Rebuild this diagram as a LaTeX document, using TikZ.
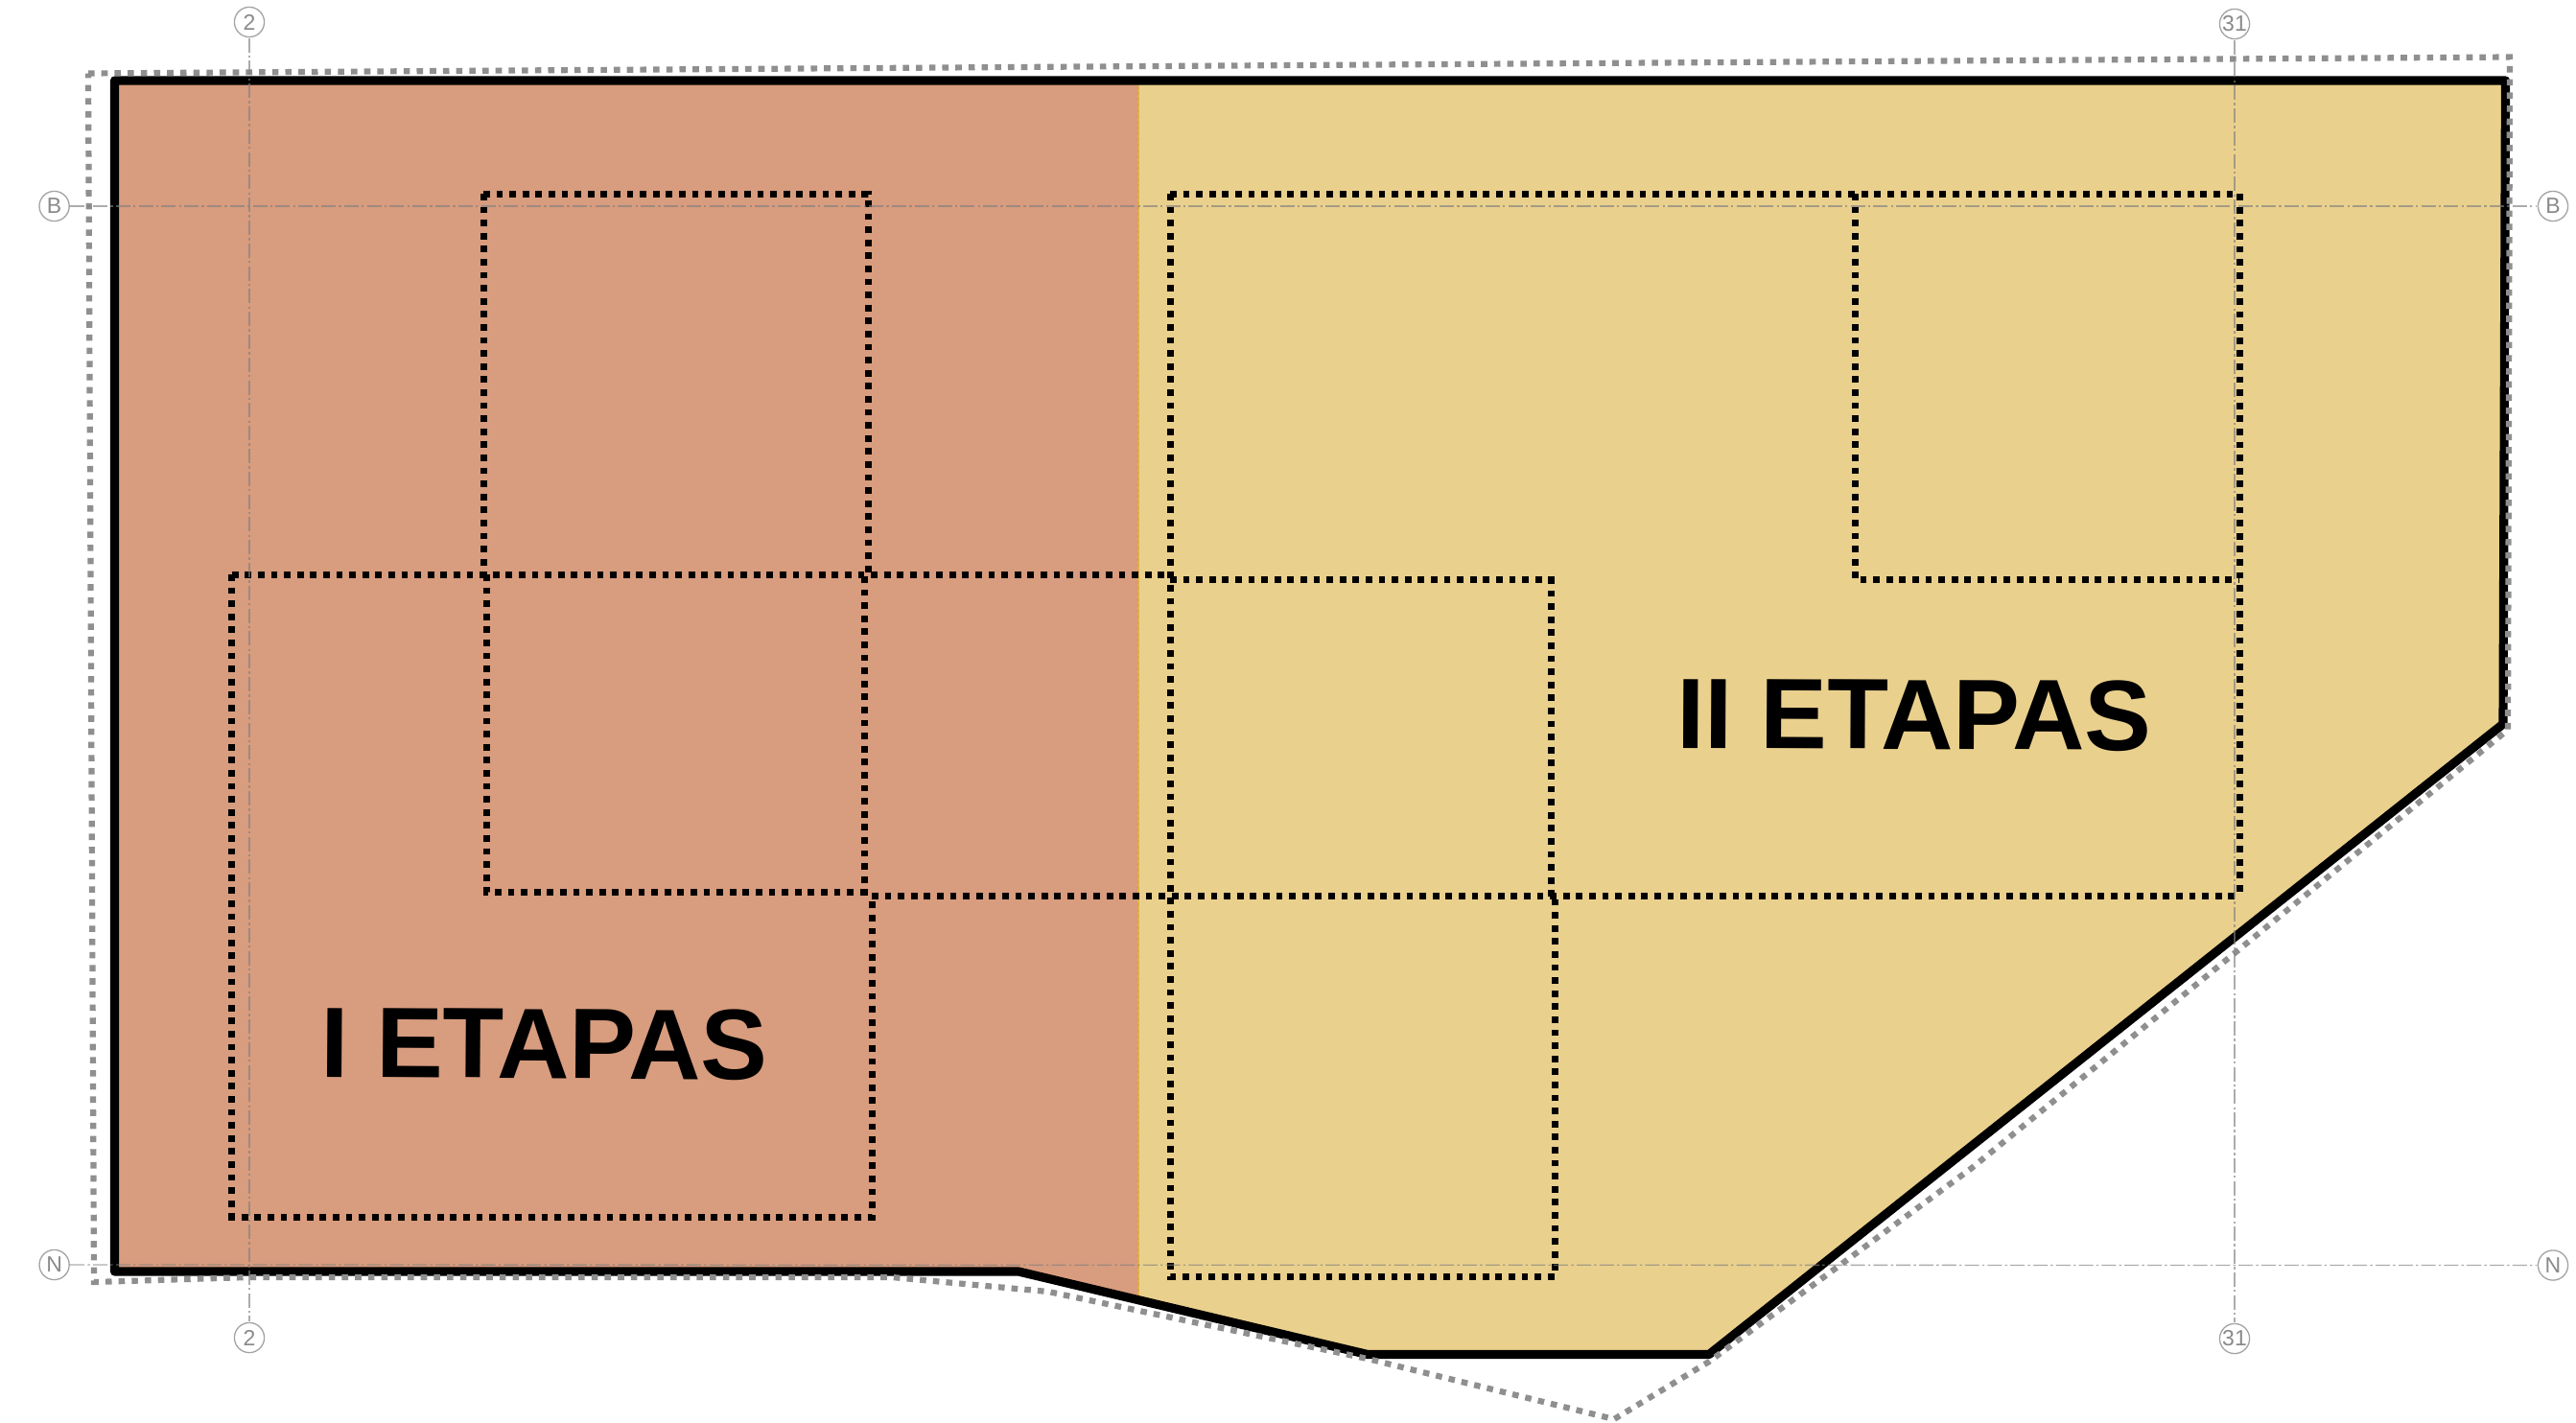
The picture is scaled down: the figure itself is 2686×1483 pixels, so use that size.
\documentclass[tikz,border=0pt]{standalone}
\usepackage{fontspec}
\setmainfont{Liberation Sans}
\definecolor{etapaA}{HTML}{D89C7E}
\definecolor{etapaB}{HTML}{EAD08D}
\definecolor{seam}{HTML}{E3B445}
\definecolor{seamdash}{HTML}{DE9A50}
\tikzset{
  gridlabel/.style={circle,draw=black!36,line width=0.65pt,minimum size=15.6pt,inner sep=0pt,outer sep=0.5pt,text=black!46,font=\fontsize{11.5pt}{11.5pt}\selectfont},
  gridline/.style={draw=black!50,opacity=0.65,line width=0.65pt,dash pattern=on 7.5pt off 1.6pt on 1.2pt off 1.6pt},
  innerdots/.style={draw=black,line width=3.5pt,dash pattern=on 3.4pt off 3.4pt,line join=miter},
  outerdots/.style={draw=black!44,line width=3.1pt,dash pattern=on 3.3pt off 3.55pt,line join=miter},
  outline/.style={draw=black,line width=4.6pt,line join=round},
  stagelabel/.style={inner sep=0pt,anchor=base west,font=\fontsize{52.2pt}{52.2pt}\selectfont\bfseries,text=black},
}
\begin{document}
\begin{tikzpicture}[x=0.5pt,y=-0.5pt]
\useasboundingbox (0,0) rectangle (2686,1483);
\fill[white] (0,0) rectangle (2686,1483);
% stage fills
\fill[etapaA] (119.5,84) -- (1187,84) -- (1187,1356) -- (1062,1326) -- (119.5,1326) -- cycle;
\fill[etapaB] (1187,84) -- (2612.5,84) -- (2610,755) -- (1782,1412.5) -- (1426,1412.5) -- (1187,1356) -- cycle;
\draw[seam,line width=1.2pt] (1187,84) -- (1187,1353);
\draw[seamdash,line width=0.6pt,dash pattern=on 1.5pt off 1.5pt] (1186.3,84) -- (1186.3,1353);
% dotted parcels
\draw[innerdots] (504,202) -- (905,202) -- (905,599);
\draw[innerdots] (504,202) -- (504,599);
\draw[innerdots] (507,599) -- (507,930) -- (901,930) -- (901,599);
\draw[innerdots] (241.7,599) -- (1217,599);
\draw[innerdots] (241.7,599) -- (241.7,1269) -- (909,1269) -- (909,934.7);
\draw[innerdots] (909,934.7) -- (2335,934.7);
\draw[innerdots] (1220,202) -- (1220,1331.5) -- (1621,1331.5) -- (1621,934.7);
\draw[innerdots] (1220,202) -- (2335,202) -- (2335,934.7);
\draw[innerdots] (1934,202) -- (1934,604.5) -- (2335,604.5);
\draw[innerdots] (1220,604.5) -- (1617,604.5) -- (1617,934.7);
% boundaries
\draw[outline] (119.5,84) -- (2612.5,84) -- (2610,755) -- (1782,1412.5) -- (1426,1412.5) -- (1062,1326) -- (119.5,1326) -- cycle;
\draw[outerdots] (92,76.5) -- (2617,59.5) -- (2615,761) -- (2056,1218) -- (1782,1420) -- (1683,1480) -- (1426,1417) -- (1093,1347) -- (930,1332) -- (260,1332) -- (98,1337) -- cycle;
% stage labels
\node[stagelabel,rotate=-0.4] (stageone) at (334,1123) {I ETAPAS};
\node[stagelabel,rotate=-0.3] (stagetwo) at (1748,780) {II ETAPAS};
% grid
\node[gridlabel] (t2) at (260,23) {2};
\node[gridlabel] (b2) at (260,1395) {2};
\node[gridlabel] (t31) at (2330,25) {31};
\node[gridlabel] (b31) at (2330,1396) {31};
\node[gridlabel] (lB) at (56.6,215) {B};
\node[gridlabel] (rB) at (2662,215) {B};
\node[gridlabel] (lN) at (56.6,1319) {N};
\node[gridlabel] (rN) at (2662,1319.5) {N};
\draw[gridline] (t2) -- (b2);
\draw[gridline] (t31) -- (b31);
\draw[gridline] (lB) -- (rB);
\draw[gridline] (lN) -- (rN);
\end{tikzpicture}
\end{document}
